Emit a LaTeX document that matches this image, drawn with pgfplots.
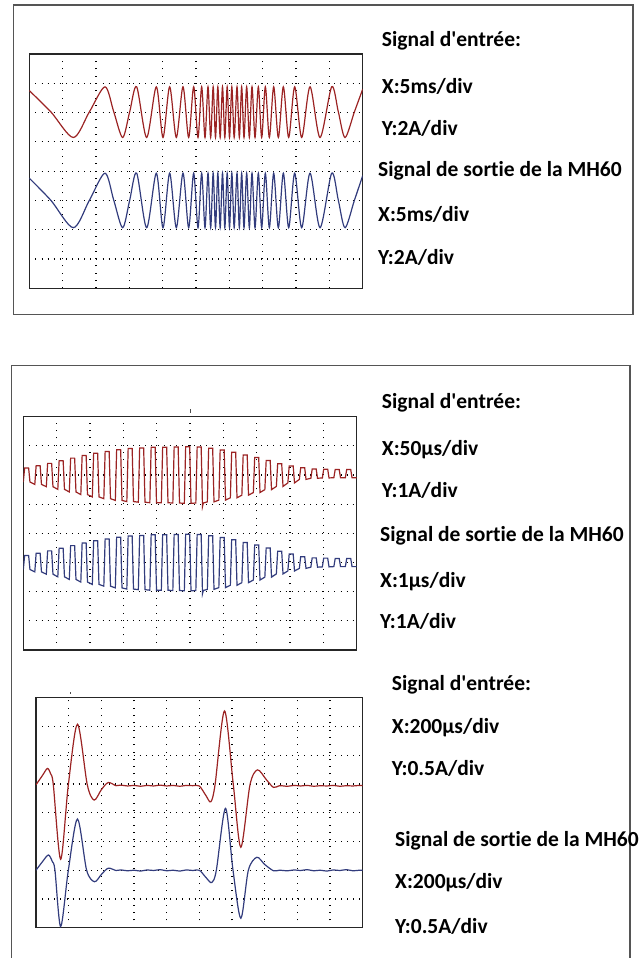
\documentclass[border=0pt]{standalone}
\usepackage{pgfplots}
\pgfplotsset{compat=1.18}
\usepackage{fontspec}
\setmainfont{Carlito}
\newfontfamily\labfont{Carlito}[Ligatures={TeXOff,CommonOff}]
\definecolor{trred}{RGB}{155,35,35}
\definecolor{trblue}{RGB}{50,60,125}
\definecolor{boxgray}{RGB}{85,85,85}
\pgfplotsset{oscope/.style={
  scale only axis, xmin=0, xmax=10, ymin=0, ymax=8,
  xtick={1,...,9}, ytick={1,...,7}, xticklabels={}, yticklabels={},
  major tick length=0pt, grid=major,
  major x grid style={black, line width=1.1pt, dash pattern=on 1pt off 6.3pt},
  major y grid style={black, line width=1.1pt, dash pattern=on 1pt off 5.1pt},
  axis line style={black!85, line width=1.2pt},
  anchor=south west}}
\tikzset{lab/.style={anchor=base west, inner sep=0pt, font=\labfont\bfseries\fontsize{21.5}{25}\selectfont}}
\begin{document}
\begin{tikzpicture}[x=1pt,y=1pt]
\useasboundingbox (0,0) rectangle (642,-958);
% outer boxes
\draw[boxgray, line width=1.5pt] (13.7,-5) rectangle (633,-314.7);
\draw[boxgray, line width=1.5pt] (11.7,-962) -- (11.7,-365.3) -- (630,-365.3) -- (630,-962);
% small marks
\draw[black!70, line width=0.8pt] (190.7,-409) -- (190.7,-412.5);
\draw[black!70, line width=0.8pt] (70,-692) -- (70,-694);

% ---------- Panel 1 ----------
\begin{axis}[oscope, at={(29.3pt,-288.3pt)}, width=333.4pt, height=234.3pt]
\addplot[trred, line width=1.2pt, smooth] coordinates {(0,6.75)(0.65,6.02)(1.32,5.15)(1.80,6.02)(2.27,6.88)(2.535,6.02)(2.80,5.15)(3.01,6.02)(3.22,6.88)(3.52,5.15)(3.81,6.88)(4.01,5.15)(4.21,6.88)(4.41,5.15)(4.61,6.88)(4.78,5.15)(4.93,6.88)(5.06,5.15)(5.17,6.88)(5.27,5.15)(5.36,6.88)(5.44,5.15)(5.515,6.88)(5.585,5.15)(5.655,6.88)(5.725,5.15)(5.795,6.88)(5.865,5.15)(5.935,6.88)(6.005,5.15)(6.075,6.88)(6.145,5.15)(6.23,6.88)(6.30,5.15)(6.37,6.88)(6.44,5.15)(6.52,6.88)(6.60,5.15)(6.68,6.88)(6.77,5.15)(6.87,6.88)(6.97,5.15)(7.08,6.88)(7.20,5.15)(7.33,6.88)(7.47,5.15)(7.62,6.88)(7.78,5.15)(7.96,6.88)(8.17,5.15)(8.42,6.88)(8.72,5.15)(9.07,6.88)(9.27,6.02)(9.47,5.15)(9.75,6.02)(10,6.80)};
\addplot[trblue, line width=1.2pt, smooth] coordinates {(0,3.76)(0.65,3.0)(1.32,2.07)(1.80,3.0)(2.27,3.93)(2.535,3.0)(2.80,2.07)(3.01,3.0)(3.22,3.93)(3.52,2.07)(3.81,3.93)(4.01,2.07)(4.21,3.93)(4.41,2.07)(4.61,3.93)(4.78,2.07)(4.93,3.93)(5.06,2.07)(5.17,3.93)(5.27,2.07)(5.36,3.93)(5.44,2.07)(5.515,3.93)(5.585,2.07)(5.655,3.93)(5.725,2.07)(5.795,3.93)(5.865,2.07)(5.935,3.93)(6.005,2.07)(6.075,3.93)(6.145,2.07)(6.23,3.93)(6.30,2.07)(6.37,3.93)(6.44,2.07)(6.52,3.93)(6.60,2.07)(6.68,3.93)(6.77,2.07)(6.87,3.93)(6.97,2.07)(7.08,3.93)(7.20,2.07)(7.33,3.93)(7.47,2.07)(7.62,3.93)(7.78,2.07)(7.96,3.93)(8.17,2.07)(8.42,3.93)(8.72,2.07)(9.07,3.93)(9.27,3.0)(9.47,2.07)(9.75,3.0)(10,3.85)};
\end{axis}

% ---------- Panel 2 ----------
\begin{axis}[oscope, at={(23.3pt,-650pt)}, width=333.4pt, height=233.3pt]
\addplot[trred, line width=1.2pt] coordinates {
(0,5.76)(0.04,6.24)(0.16,6.24)(0.20,5.76)
(0.345,5.68)(0.385,6.32)(0.505,6.32)(0.545,5.68)
(0.69,5.60)(0.73,6.40)(0.85,6.40)(0.89,5.60)
(1.035,5.51)(1.075,6.49)(1.195,6.49)(1.235,5.51)
(1.38,5.42)(1.42,6.58)(1.54,6.58)(1.58,5.42)
(1.725,5.33)(1.765,6.67)(1.885,6.67)(1.925,5.33)
(2.07,5.25)(2.11,6.75)(2.23,6.75)(2.27,5.25)
(2.415,5.19)(2.455,6.81)(2.575,6.81)(2.615,5.19)
(2.76,5.13)(2.80,6.87)(2.92,6.87)(2.96,5.13)
(3.105,5.09)(3.145,6.91)(3.265,6.91)(3.305,5.09)
(3.45,5.07)(3.49,6.93)(3.61,6.93)(3.65,5.07)
(3.795,5.05)(3.835,6.95)(3.955,6.95)(3.995,5.05)
(4.14,5.05)(4.18,6.95)(4.30,6.95)(4.34,5.05)
(4.485,5.04)(4.525,6.96)(4.645,6.96)(4.685,5.04)
(4.83,5.03)(4.87,6.97)(4.99,6.97)(5.03,5.03)
(5.175,5.04)(5.215,6.96)(5.335,6.96)(5.375,4.92)(5.40,5.04)
(5.52,5.08)(5.56,6.92)(5.68,6.92)(5.72,5.08)
(5.865,5.14)(5.905,6.86)(6.025,6.86)(6.065,5.14)
(6.21,5.22)(6.25,6.78)(6.37,6.78)(6.41,5.22)
(6.555,5.31)(6.595,6.69)(6.715,6.69)(6.755,5.31)
(6.90,5.40)(6.94,6.60)(7.06,6.60)(7.10,5.40)
(7.245,5.50)(7.285,6.50)(7.405,6.50)(7.445,5.50)
(7.59,5.61)(7.63,6.39)(7.75,6.39)(7.79,5.61)
(7.935,5.73)(7.975,6.31)(8.095,6.31)(8.135,5.73)
(8.28,5.85)(8.32,6.25)(8.44,6.25)(8.48,5.85)
(8.625,5.89)(8.665,6.21)(8.785,6.21)(8.825,5.89)
(8.97,5.90)(9.01,6.20)(9.13,6.20)(9.17,5.90)
(9.315,5.91)(9.355,6.19)(9.475,6.19)(9.515,5.91)
(9.66,5.91)(9.70,6.19)(9.82,6.19)(9.86,5.91)
(10,5.91)};
\addplot[trblue, line width=1.2pt] coordinates {
(0,2.76)(0.04,3.24)(0.16,3.24)(0.20,2.76)
(0.345,2.68)(0.385,3.32)(0.505,3.32)(0.545,2.68)
(0.69,2.60)(0.73,3.40)(0.85,3.40)(0.89,2.60)
(1.035,2.51)(1.075,3.49)(1.195,3.49)(1.235,2.51)
(1.38,2.42)(1.42,3.58)(1.54,3.58)(1.58,2.42)
(1.725,2.33)(1.765,3.67)(1.885,3.67)(1.925,2.33)
(2.07,2.25)(2.11,3.75)(2.23,3.75)(2.27,2.25)
(2.415,2.19)(2.455,3.81)(2.575,3.81)(2.615,2.19)
(2.76,2.13)(2.80,3.87)(2.92,3.87)(2.96,2.13)
(3.105,2.09)(3.145,3.91)(3.265,3.91)(3.305,2.09)
(3.45,2.07)(3.49,3.93)(3.61,3.93)(3.65,2.07)
(3.795,2.05)(3.835,3.95)(3.955,3.95)(3.995,2.05)
(4.14,2.05)(4.18,3.95)(4.30,3.95)(4.34,2.05)
(4.485,2.04)(4.525,3.96)(4.645,3.96)(4.685,2.04)
(4.83,2.03)(4.87,3.97)(4.99,3.97)(5.03,2.03)
(5.175,2.04)(5.215,3.96)(5.335,3.96)(5.375,1.93)(5.40,2.04)
(5.52,2.08)(5.56,3.92)(5.68,3.92)(5.72,2.08)
(5.865,2.14)(5.905,3.86)(6.025,3.86)(6.065,2.14)
(6.21,2.22)(6.25,3.78)(6.37,3.78)(6.41,2.22)
(6.555,2.31)(6.595,3.69)(6.715,3.69)(6.755,2.31)
(6.90,2.40)(6.94,3.60)(7.06,3.60)(7.10,2.40)
(7.245,2.50)(7.285,3.50)(7.405,3.50)(7.445,2.50)
(7.59,2.61)(7.63,3.39)(7.75,3.39)(7.79,2.61)
(7.935,2.71)(7.975,3.29)(8.095,3.29)(8.135,2.71)
(8.28,2.80)(8.32,3.20)(8.44,3.20)(8.48,2.80)
(8.625,2.84)(8.665,3.16)(8.785,3.16)(8.825,2.84)
(8.97,2.85)(9.01,3.15)(9.13,3.15)(9.17,2.85)
(9.315,2.86)(9.355,3.14)(9.475,3.14)(9.515,2.86)
(9.66,2.86)(9.70,3.14)(9.82,3.14)(9.86,2.86)
(10,2.86)};
\end{axis}

% ---------- Panel 3 ----------
\begin{axis}[oscope, at={(36pt,-927.7pt)}, width=326.7pt, height=230pt]
\addplot[trred, line width=1.2pt, smooth, tension=0.5] coordinates {(0,4.97)(0.2,5.3)(0.35,5.54)(0.45,5.35)(0.53,4.97)(0.755,2.38)(0.99,4.97)(1.27,7.08)(1.57,4.97)(1.78,4.44)(2.0,4.8)(2.21,5.05)(2.45,4.94)(2.6,4.96)(2.8,4.93)(3.0,4.95)(3.2,4.92)(3.4,4.95)(3.6,4.93)(3.8,4.96)(4.0,4.93)(4.2,4.95)(4.4,4.92)(4.6,4.95)(4.8,4.94)(5.0,4.93)(5.2,4.6)(5.35,4.38)(5.48,4.97)(5.77,7.54)(6.04,4.97)(6.27,2.8)(6.55,4.97)(6.78,5.49)(7.05,5.15)(7.27,4.88)(7.45,4.94)(7.7,4.92)(7.9,4.95)(8.1,4.93)(8.3,4.95)(8.5,4.92)(8.7,4.94)(8.9,4.93)(9.1,4.95)(9.3,4.92)(9.5,4.94)(9.7,4.93)(9.9,4.95)(10,4.94)};
\addplot[trblue, line width=1.2pt, smooth, tension=0.5] coordinates {(0,2.0)(0.2,2.3)(0.38,2.53)(0.5,2.3)(0.58,2.0)(0.755,0.04)(0.99,2.0)(1.27,3.78)(1.55,2.0)(1.79,1.6)(2.0,1.85)(2.21,2.07)(2.45,1.99)(2.6,2.01)(2.8,1.98)(3.0,2.0)(3.2,1.97)(3.4,2.01)(3.6,1.99)(3.8,2.02)(4.0,1.98)(4.2,2.0)(4.4,1.97)(4.6,2.01)(4.8,1.99)(5.0,2.0)(5.2,1.75)(5.38,1.57)(5.52,2.0)(5.8,4.15)(6.03,2.0)(6.27,0.33)(6.5,2.0)(6.76,2.45)(7.0,2.2)(7.27,1.98)(7.45,2.0)(7.7,1.98)(7.9,2.01)(8.1,1.99)(8.3,2.02)(8.5,1.98)(8.7,2.0)(8.9,1.97)(9.1,2.01)(9.3,1.99)(9.5,2.02)(9.7,1.98)(9.9,2.0)(10,2.0)};
\end{axis}

% ---------- Texts ----------
\node[lab] at (381.7,-46.5) {Signal d'entrée:};
\node[lab] at (381.7,-93.6) {X:5ms/div};
\node[lab] at (381.7,-135.9) {Y:2A/div};
\node[lab] at (378,-176.5) {Signal de sortie de la MH60};
\node[lab] at (378,-221.9) {X:5ms/div};
\node[lab] at (378,-264.9) {Y:2A/div};

\node[lab] at (381.7,-408) {Signal d'entrée:};
\node[lab] at (381.7,-455) {X:50µs/div};
\node[lab] at (381.7,-497) {Y:1A/div};
\node[lab] at (380,-541.5) {Signal de sortie de la MH60};
\node[lab] at (380,-587) {X:1µs/div};
\node[lab] at (380,-628.6) {Y:1A/div};

\node[lab] at (391.7,-690) {Signal d'entrée:};
\node[lab] at (391.7,-733.6) {X:200µs/div};
\node[lab] at (391.7,-775.2) {Y:0.5A/div};
\node[lab] at (395,-846.5) {Signal de sortie de la MH60};
\node[lab] at (395,-888.6) {X:200µs/div};
\node[lab] at (395,-933.6) {Y:0.5A/div};
\end{tikzpicture}
\end{document}
